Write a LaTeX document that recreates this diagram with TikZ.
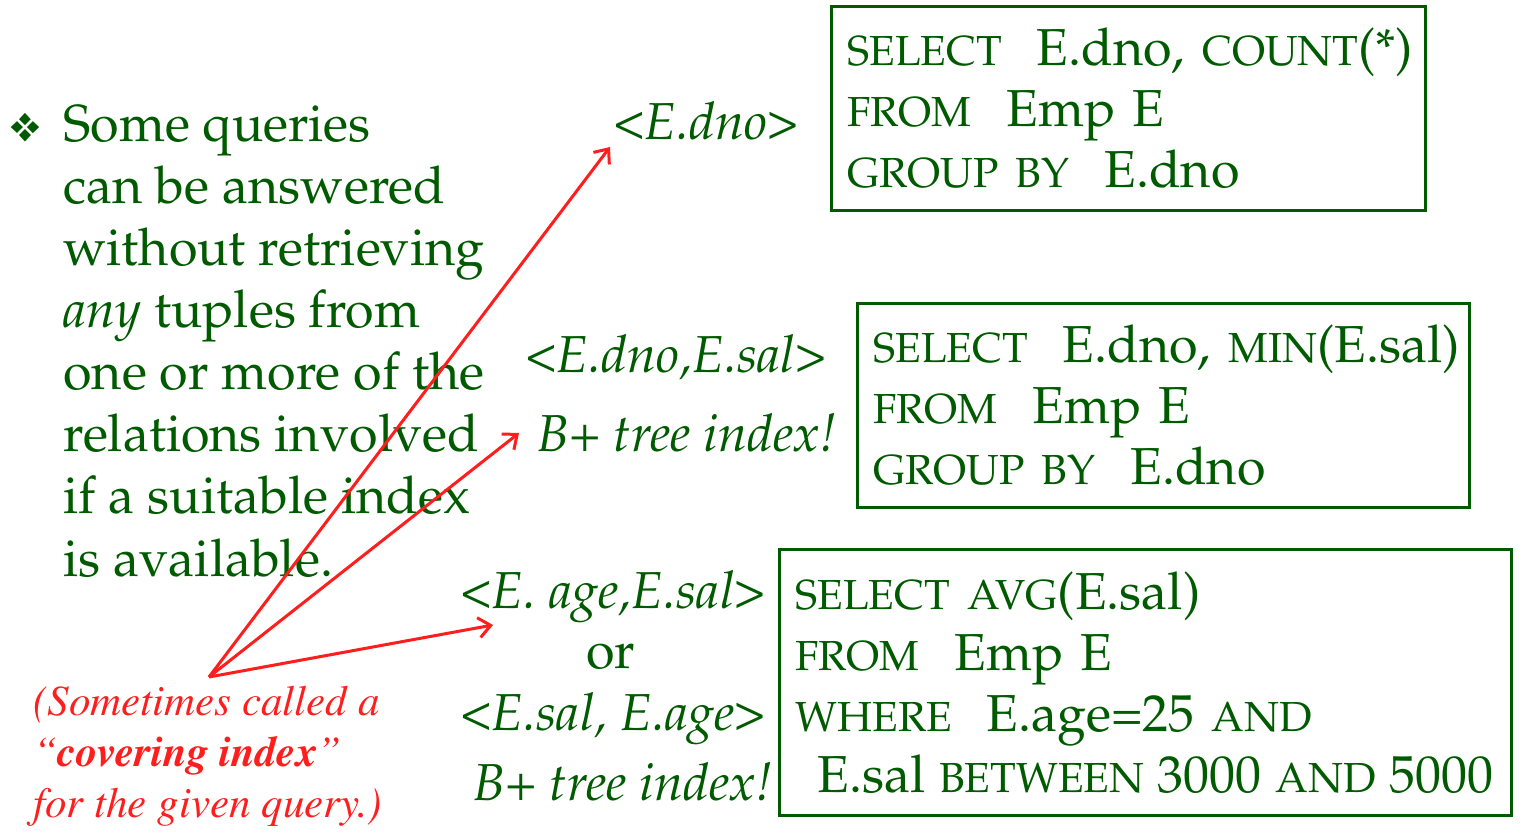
\documentclass[tikz,border=0pt]{standalone}
\usepackage[T1]{fontenc}
\usepackage{mathpazo}
\usepackage{pifont}
\usetikzlibrary{arrows.meta}

\definecolor{qgreen}{RGB}{0,90,0}
\definecolor{qred}{RGB}{255,30,30}
\newcommand{\kw}[1]{\mbox{\fontsize{21}{30.5}\selectfont #1}}
\newcommand{\idx}[1]{{\upshape<}\textit{#1}{\upshape>}}

\begin{document}
\begin{tikzpicture}[x=0.5pt, y=-0.5pt,
    body/.style={text=qgreen, font=\fontsize{26}{31}\selectfont, inner sep=0pt, anchor=base west},
    sqlbox/.style={draw=qgreen, line width=1.5pt, text=qgreen, anchor=north west, align=left,
        inner xsep=8pt, inner ysep=0pt, font=\fontsize{26}{30.5}\selectfont},
    pointer/.style={draw=qred, line width=1.5pt, -{Straight Barb[length=6pt,width=10pt]}}]
    \useasboundingbox (0,0) rectangle (1524,838);

    % bullet text, one node per line
    \node[body, font=\fontsize{20}{20}\selectfont] (bul) at (9,142) {\ding{118}};
    \foreach \ln/\txt in {0/Some queries, 1/can be answered, 2/without retrieving,
            3/\textit{any} tuples from, 4/one or more of the, 5/relations involved,
            6/if a suitable index, 7/is available.} {
        \node[body] (line\ln) at (63,{142+62*\ln}) {\txt};
    }

    % index labels
    \node[body] (idxA) at (613,140) {\idx{E.dno}};
    \node[body] (idxB) at (525,373) {\idx{E.dno,E.sal}};
    \node[body] (treeB) at (537,452) {\textit{B+ tree index!}};
    \node[body] (idxC) at (460,608) {\idx{E. age,E.sal}};
    \node[body, anchor=base] (orC) at (611,668) {or};
    \node[body] (idxD) at (460,730) {\idx{E.sal, E.age}};
    \node[body] (treeD) at (473,800) {\textit{B+ tree index!}};

    % queries (ties keep each line whole)
    \node[sqlbox, minimum width=297pt, minimum height=102pt, text width=281pt] (qA) at (830,5)
        {\kw{SELECT}~~E.dno,~\kw{COUNT}(*)\\
         \kw{FROM}~~Emp~E\\
         \kw{GROUP~BY}~~E.dno};
    \node[sqlbox, minimum width=306pt, minimum height=102pt, text width=290pt] (qB) at (856,302)
        {\kw{SELECT}~~E.dno,~\kw{MIN}(E.sal)\\
         \kw{FROM}~~Emp~E\\
         \kw{GROUP~BY}~~E.dno};
    \node[sqlbox, minimum width=366pt, minimum height=133pt, text width=350pt] (qC) at (778,548)
        {\kw{SELECT~AVG}(E.sal)\\
         \kw{FROM}~~Emp~E\\
         \kw{WHERE}~~E.age=25~\kw{AND}\\
         \hspace*{11pt}\mbox{\spaceskip=6.8pt E.sal \kw{BETWEEN} 3000 \kw{AND} 5000}};

    % covering index note (base = last line)
    \node[anchor=base west, align=left, inner sep=0pt, text=qred,
        font=\fontfamily{ptm}\fontsize{21.5}{25.5}\selectfont\itshape] (note) at (33,817)
        {(Sometimes called a\\``\textbf{covering index}''\\for the given query.)};

    \coordinate (src) at (209,677);
    \coordinate (tipA) at (610,147);
    \coordinate (tipB) at (519,433);
    \coordinate (tipC) at (493,625);
    \draw[pointer] (src) -- (tipA);
    \draw[pointer] (src) -- (tipB);
    \draw[pointer] (src) -- (tipC);
\end{tikzpicture}
\end{document}
